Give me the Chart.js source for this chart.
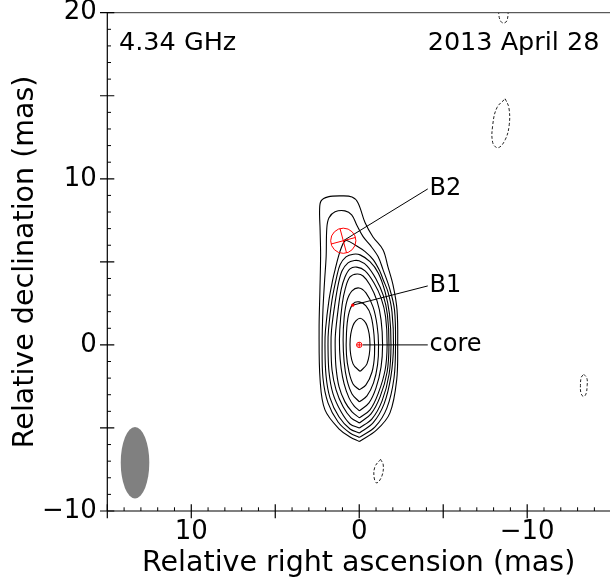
<!DOCTYPE html>
<html><head><meta charset="utf-8">
<script src="https://cdn.jsdelivr.net/npm/chart.js@4.4.1/dist/chart.umd.min.js"></script>
<style>html,body{margin:0;padding:0;background:#fff;}canvas{display:block;}</style>
</head><body>
<canvas id="c" width="610" height="583"></canvas>
<script>
// ---- axis ticks ----
const xLabelTicks = [10, 0, -10];
const yLabelTicks = [20, 10, 0, -10];
const xMajorTicks = [15, 10, 5, 0, -5, -10, -15];
const xMinorTicks = [14,13,12,11,9,8,7,6,4,3,2,1,-1,-2,-3,-4,-6,-7,-8,-9,-11,-12,-13,-14];
const yMajorTicks = [20, 15, 10, 5, 0, -5, -10];
const yMinorTicks = [19,18,17,16,14,13,12,11,9,8,7,6,4,3,2,1,-1,-2,-3,-4,-6,-7,-8,-9];

// ---- positive contours (x = RA offset mas, y = Dec offset mas) ----
const contour10 = [[-0.01,-5.82],[-1.04,-5.12],[-1.83,-4.09],[-2.23,-2.11],[-2.29,0],[-2.25,2.11],[-2.01,3.61],[-1.71,4.7],[-1.42,5.72],[-0.82,6.5],[-0.35,7.35],[0.07,8.55],[0.43,8.91],[1.14,8.97],[1.86,8.91],[2.27,8.67],[2.36,8.13],[2.33,6.92],[2.3,5.42],[2.34,3.31],[2.39,0.9],[2.33,-2.11],[2.04,-3.91],[1.14,-5.12],[0.55,-5.54],[-0.01,-5.82]];
const contour9 = [[-0.01,-5.57],[-0.94,-4.94],[-1.65,-3.79],[-2.07,-1.99],[-2.16,0],[-2.1,2.11],[-1.8,3.43],[-1.42,4.52],[-1.12,5.32],[-0.64,6.02],[-0.23,6.52],[0.15,7.22],[0.45,7.83],[0.85,8.07],[1.44,8.01],[1.8,7.65],[1.93,7.04],[1.97,5.32],[2.06,3.91],[2.16,2.11],[2.21,0],[2.16,-1.99],[1.86,-3.49],[1.26,-4.64],[0.55,-5.3],[-0.01,-5.57]];
const contour8 = [[-0.01,-5.3],[-0.82,-4.7],[-1.48,-3.55],[-1.89,-1.87],[-2.04,0],[-1.95,1.99],[-1.71,3.19],[-1.43,3.91],[-1.24,4.41],[-0.84,5.12],[-0.35,5.62],[0.25,6.02],[0.74,6.29],[0.9,6.2],[1.04,5.92],[1.24,5.32],[1.44,4.52],[1.58,3.91],[1.8,2.71],[2.01,0.9],[2.04,0],[1.98,-1.81],[1.74,-3.19],[1.21,-4.33],[0.55,-5.06],[-0.01,-5.3]];
const contour7 = [[-0.01,-5.0],[-0.76,-4.45],[-1.36,-3.37],[-1.78,-1.75],[-1.89,0],[-1.8,1.87],[-1.54,3.19],[-1.14,4.32],[-0.64,5.01],[-0.05,5.42],[0.35,5.46],[0.79,5.3],[1.14,4.82],[1.34,4.11],[1.62,2.71],[1.83,0.9],[1.86,0],[1.8,-1.63],[1.56,-2.95],[1.08,-4.03],[0.55,-4.76],[-0.01,-5.0]];
const contour6 = [[-0.01,-4.7],[-0.7,-4.15],[-1.24,-3.13],[-1.66,-1.63],[-1.77,0],[-1.68,1.81],[-1.42,3.01],[-1.0,3.97],[-0.46,4.76],[0.01,5.06],[0.29,5.08],[0.67,4.94],[1.02,4.46],[1.23,3.73],[1.44,2.53],[1.65,0.9],[1.68,0],[1.62,-1.51],[1.38,-2.71],[0.96,-3.73],[0.49,-4.39],[-0.01,-4.7]];
const contour5 = [[-0.01,-4.39],[-0.64,-3.91],[-1.12,-2.95],[-1.54,-1.51],[-1.66,0],[-1.57,1.69],[-1.3,2.83],[-0.88,3.73],[-0.35,4.46],[0.15,4.68],[0.55,4.58],[0.85,4.09],[1.08,3.31],[1.26,2.11],[1.42,0.6],[1.43,-0.3],[1.38,-1.38],[1.2,-2.53],[0.85,-3.43],[0.43,-4.03],[-0.01,-4.39]];
const contour4 = [[-0.01,-3.97],[-0.58,-3.49],[-1.0,-2.59],[-1.3,-1.32],[-1.39,0],[-1.3,1.51],[-1.06,2.65],[-0.64,3.61],[-0.23,4.15],[0.13,4.27],[0.55,4.09],[0.82,3.43],[1.02,2.41],[1.16,0.9],[1.17,-0.3],[1.08,-1.38],[0.9,-2.35],[0.61,-3.19],[0.31,-3.67],[-0.01,-3.97]];
const contour3 = [[-0.01,-3.43],[-0.46,-3.07],[-0.85,-2.29],[-1.09,-1.2],[-1.15,0],[-1.06,1.2],[-0.82,2.29],[-0.4,3.13],[0.01,3.43],[0.43,3.25],[0.73,2.65],[0.9,1.63],[0.96,0.3],[0.9,-1.02],[0.73,-2.11],[0.43,-2.95],[-0.01,-3.43]];
const contour2 = [[-0.01,-2.71],[-0.4,-2.41],[-0.76,-1.63],[-0.91,-0.6],[-0.88,0.6],[-0.7,1.75],[-0.4,2.35],[0.01,2.59],[0.37,2.47],[0.64,1.81],[0.76,0.72],[0.76,-0.6],[0.61,-1.63],[0.37,-2.35],[-0.01,-2.71]];
const contour1 = [[-0.05,-1.6],[-0.46,-1.14],[-0.64,0.03],[-0.46,1.17],[-0.05,1.6],[0.37,1.17],[0.55,0.03],[0.37,-1.14],[-0.05,-1.6]];

// ---- negative (dashed) contours ----
const negContourA = [[-8.3,20.4],[-8.32,19.8],[-8.45,19.45],[-8.62,19.38],[-8.78,19.5],[-8.86,19.9],[-8.85,20.4]];
const negContourB = [[-8.69,14.82],[-8.91,14.28],[-8.93,13.25],[-8.69,12.35],[-8.27,11.87],[-7.95,12.17],[-7.95,13.25],[-8.2,14.28],[-8.69,14.82]];
const negContourC = [[-13.37,-1.77],[-13.55,-2.0],[-13.57,-2.44],[-13.5,-2.95],[-13.35,-3.11],[-13.2,-2.9],[-13.17,-2.44],[-13.22,-1.95],[-13.37,-1.77]];
const negContourD = [[-1.27,-6.89],[-1.43,-7.23],[-1.35,-7.89],[-1.05,-8.31],[-0.89,-8.01],[-0.93,-7.35],[-1.27,-6.89]];

// ---- model components ----
const compNames = ['core', 'B1', 'B2'];
const compX = [0, 0.39, 0.95];
const compY = [0, 2.39, 6.27];
const compDiam = [0.32, 0.14, 1.5];
const compTilt = [0, 0, 15];

// ---- labels and leader lines ----
const labelNames = ['core', 'B1', 'B2'];
const labelX = [-4.19, -4.19, -4.19];
const labelY = [0, 3.55, 9.39];
const leaderStartX = [-0.2, 0.39, 0.95];
const leaderStartY = [0, 2.39, 6.27];
const leaderEndX = [-4.08, -4.08, -4.08];
const leaderEndY = [0, 3.55, 9.39];

// ---- restoring beam ----
const beamCenter = [13.35, -7.09];
const beamSize = [1.7, 4.3];

const freqText = '4.34 GHz';
const dateText = '2013 April 28';

const FONT = "'DejaVu Sans'";
Chart.defaults.font.family = FONT;
Chart.defaults.color = '#000';

const pts = a => a.map(p => ({x: p[0], y: p[1]}));
const datasets = [];
[contour10, contour9, contour8, contour7, contour6, contour5, contour4, contour3, contour2, contour1].forEach(c => {
  datasets.push({data: pts(c), showLine: true, pointRadius: 0, borderColor: '#000', borderWidth: 1.1, tension: 0.35, fill: false});
});
[negContourA, negContourB, negContourC, negContourD].forEach(c => {
  datasets.push({data: pts(c), showLine: true, pointRadius: 0, borderColor: '#222', borderWidth: 1, borderDash: [3, 2], tension: 0.4, fill: false});
});
for (let i = 0; i < leaderEndX.length; i++) {
  datasets.push({data: [{x: leaderStartX[i], y: leaderStartY[i]}, {x: leaderEndX[i], y: leaderEndY[i]}], showLine: true, pointRadius: 0, borderColor: '#000', borderWidth: 1, tension: 0});
}

const fmt = v => (v < 0 ? '\u2212' + Math.abs(v) : String(v));

const decor = {
  id: 'decor',
  beforeDatasetsDraw(chart) {
    const {ctx, chartArea: a, scales: {x, y}} = chart;
    ctx.save();
    ctx.beginPath(); ctx.rect(a.left, a.top, a.right - a.left, a.bottom - a.top); ctx.clip();
    const cx = x.getPixelForValue(beamCenter[0]), cy = y.getPixelForValue(beamCenter[1]);
    const rx = Math.abs(x.getPixelForValue(beamCenter[0] + beamSize[0] / 2) - cx);
    const ry = Math.abs(y.getPixelForValue(beamCenter[1] + beamSize[1] / 2) - cy);
    ctx.fillStyle = '#808080';
    ctx.beginPath(); ctx.ellipse(cx, cy, rx, ry, 0, 0, Math.PI * 2); ctx.fill();
    ctx.restore();
  },
  afterDatasetsDraw(chart) {
    const {ctx, scales: {x, y}} = chart;
    ctx.save();
    ctx.strokeStyle = '#ff0000'; ctx.fillStyle = '#ff0000'; ctx.lineWidth = 1;
    for (let i = 0; i < compX.length; i++) {
      const cx = x.getPixelForValue(compX[i]), cy = y.getPixelForValue(compY[i]);
      const r = Math.abs(x.getPixelForValue(compX[i] + compDiam[i] / 2) - cx);
      if (r < 2) { ctx.beginPath(); ctx.arc(cx, cy, 1.6, 0, Math.PI * 2); ctx.fill(); continue; }
      ctx.beginPath(); ctx.arc(cx, cy, r, 0, Math.PI * 2); ctx.stroke();
      const t = compTilt[i] * Math.PI / 180, s = Math.sin(t), c = Math.cos(t);
      ctx.beginPath();
      ctx.moveTo(cx - r * s, cy - r * c); ctx.lineTo(cx + r * s, cy + r * c);
      ctx.moveTo(cx - r * c, cy + r * s); ctx.lineTo(cx + r * c, cy - r * s);
      ctx.stroke();
    }
    ctx.restore();
  },
  afterDraw(chart) {
    const {ctx, chartArea: a, scales: {x, y}} = chart;
    ctx.save();
    ctx.strokeStyle = '#000'; ctx.lineWidth = 1.2;
    ctx.beginPath();
    ctx.moveTo(a.left, a.top); ctx.lineTo(a.left, a.bottom);
    ctx.moveTo(a.left, a.bottom); ctx.lineTo(a.right, a.bottom);
    ctx.stroke();
    ctx.lineWidth = 1; ctx.strokeStyle = '#333';
    ctx.beginPath(); ctx.moveTo(a.left, a.top); ctx.lineTo(a.right, a.top); ctx.stroke();
    ctx.strokeStyle = '#000'; ctx.lineWidth = 1;
    ctx.beginPath();
    xMinorTicks.forEach(v => { const p = x.getPixelForValue(v); ctx.moveTo(p, a.bottom); ctx.lineTo(p, a.bottom - 3.7); });
    yMinorTicks.forEach(v => { const p = y.getPixelForValue(v); ctx.moveTo(a.left, p); ctx.lineTo(a.left + 3.7, p); });
    ctx.stroke();
    ctx.lineWidth = 1.2;
    ctx.beginPath();
    xMajorTicks.forEach(v => { const p = x.getPixelForValue(v); ctx.moveTo(p, a.bottom - 6.7); ctx.lineTo(p, a.bottom + 7.3); });
    yMajorTicks.forEach(v => { const p = y.getPixelForValue(v); ctx.moveTo(a.left - 7.3, p); ctx.lineTo(a.left + 7, p); });
    ctx.stroke();
    // annotations
    ctx.fillStyle = '#000';
    ctx.font = '25.5px ' + FONT;
    ctx.textBaseline = 'alphabetic';
    ctx.textAlign = 'left';
    ctx.fillText(freqText, a.left + 11.7, a.top + 37.3);
    ctx.textAlign = 'right';
    ctx.fillText(dateText, 599.5, a.top + 36.8);
    ctx.font = '24px ' + FONT;
    ctx.textAlign = 'left'; ctx.textBaseline = 'middle';
    for (let i = 0; i < labelNames.length; i++) {
      ctx.fillText(labelNames[i], x.getPixelForValue(labelX[i]), y.getPixelForValue(labelY[i]));
    }
    ctx.restore();
  }
};

new Chart(document.getElementById('c'), {
  type: 'scatter',
  data: {datasets},
  plugins: [decor],
  options: {
    responsive: false, animation: false, devicePixelRatio: 1,
    layout: {padding: {top: 12.7, right: 0, bottom: 0, left: 0}},
    plugins: {legend: {display: false}, tooltip: {enabled: false}},
    scales: {
      x: {
        type: 'linear', reverse: true, min: -14.93, max: 15,
        grid: {display: false, drawTicks: false}, border: {display: false},
        ticks: {font: {size: 26}, padding: 5.7, color: '#000', autoSkip: false, maxRotation: 0, minRotation: 0, callback: fmt},
        afterBuildTicks: s => { s.ticks = xLabelTicks.map(v => ({value: v})); },
        afterFit: s => { s.height = 72; s.paddingLeft = 0; s.paddingRight = 0; },
        title: {display: true, text: 'Relative right ascension (mas)', font: {size: 28.5}, color: '#000', padding: {top: 0, bottom: 2.7}}
      },
      y: {
        type: 'linear', min: -10, max: 20,
        grid: {display: false, drawTicks: false}, border: {display: false},
        ticks: {font: {size: 26}, padding: 10.5, color: '#000', autoSkip: false, callback: fmt},
        afterBuildTicks: s => { s.ticks = yLabelTicks.map(v => ({value: v})); },
        afterFit: s => { s.width = 107.3; s.paddingTop = 0; s.paddingBottom = 0; },
        title: {display: true, text: 'Relative declination (mas)', font: {size: 28.5}, color: '#000', padding: {top: 8.2, bottom: 0}}
      }
    }
  }
});
</script>
</body></html>
